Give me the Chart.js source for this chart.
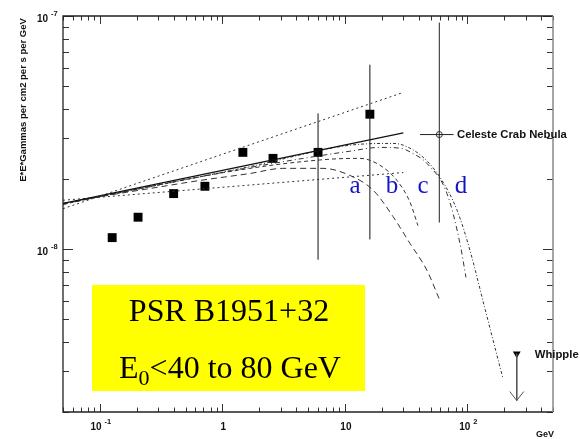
<!DOCTYPE html>
<html>
<head>
<meta charset="utf-8">
<title>PSR B1951+32 spectrum</title>
<script src="https://cdn.jsdelivr.net/npm/chart.js@4.4.0/dist/chart.umd.min.js"></script>
<style>
    body {
        margin: 0;
        background: #ffffff;
    }
    #wrap {
        width: 580px;
        height: 439px;
    }
</style>
</head>
<body>
<div id="wrap"><canvas id="spectrum" width="580" height="439"></canvas></div>
<script>
// energies in GeV, fluxes are E*E*dN/dE
const egretE    = [0.126, 0.205, 0.40, 0.72, 1.47, 2.59, 6.04, 16.0];
const egretFlux = [1.12e-8, 1.37e-8, 1.73e-8, 1.86e-8, 2.60e-8, 2.45e-8, 2.60e-8, 3.79e-8];

// only the two highest points carry drawn error bars
const errE  = [6.04, 16.0];
const errLo = [0.90e-8, 1.10e-8];
const errHi = [3.82e-8, 6.18e-8];

// Celeste point (Crab Nebula) with bars
const celesteE = 59;
const celesteFlux = 3.10e-8;
const celesteELo = 41;
const celesteEHi = 77;
const celesteFluxLo = 1.30e-8;
const celesteFluxHi = 9.37e-8;

// Whipple upper limit
const whippleE = 253;
const whippleFlux = 3.56e-9;
const whippleArrowEnd = 2.24e-9;

// power law fits
const plE     = [0.05, 30];
const plUpper = [1.49e-8, 4.70e-8];
const plBest  = [1.57e-8, 3.15e-8];
const plLower = [1.62e-8, 2.13e-8];

// cutoff curves a-d
const curveAE = [0.05, 0.095, 0.257, 0.657, 1.68, 3.12, 6.63, 11.0, 17.0, 24.7, 34.0, 46.8, 58.7];
const curveAF = [1.57e-8, 1.67e-8, 1.82e-8, 1.97e-8, 2.11e-8, 2.22e-8, 2.22e-8, 2.07e-8, 1.79e-8, 1.38e-8, 1.058e-8, 0.81e-8, 0.614e-8];
const curveBE = [0.05, 0.095, 1.68, 7.56, 13.3, 19.3, 26.6, 34.0, 39.5];
const curveBF = [1.555e-8, 1.67e-8, 2.22e-8, 2.43e-8, 2.45e-8, 2.29e-8, 1.97e-8, 1.59e-8, 1.26e-8];
const curveCE = [0.05, 0.095, 1.68, 11.0, 19.3, 28.2, 36.0, 46.8, 68.2, 87.0, 97.4];
const curveCF = [1.555e-8, 1.67e-8, 2.24e-8, 2.63e-8, 2.73e-8, 2.71e-8, 2.57e-8, 2.33e-8, 1.73e-8, 1.058e-8, 0.756e-8];
const curveDE = [0.05, 0.095, 1.68, 11.0, 24.7, 30, 43.4, 59.8, 82.3, 105, 139, 195];
const curveDF = [1.57e-8, 1.67e-8, 2.26e-8, 2.79e-8, 2.84e-8, 2.79e-8, 2.48e-8, 2.03e-8, 1.47e-8, 0.987e-8, 0.556e-8, 0.279e-8];

const curveLabels = ['a', 'b', 'c', 'd'];
const curveLabelE = [12.1, 24.2, 43.4, 88.7];

// axis tick labels
const xTickVals = [0.1, 1, 10, 100];
const xTickBase = ['10', '1', '10', '10'];
const xTickExp  = ['-1', '', '', '2'];
const yTickVals = [1e-8, 1e-7];
const yTickBase = ['10', '10'];
const yTickExp  = ['-8', '-7'];

const yTitle = 'E*E*Gammas per cm2 per s per GeV';
const xUnit = 'GeV';
const boxLine1 = 'PSR B1951+32';
const boxLine2 = ['E', '0', '<40 to 80 GeV'];

const SANS = '"Liberation Sans", Arial, sans-serif';
const SERIF = '"Liberation Serif", "Times New Roman", serif';

function pts(xs, ys) {
    return xs.map((v, i) => ({x: v, y: ys[i]}));
}

function curve(label, xs, ys, dash, width, color) {
    return {
        label: label,
        data: pts(xs, ys),
        borderColor: color || '#333',
        borderWidth: width || 1,
        borderDash: dash,
        pointRadius: 0,
        cubicInterpolationMode: 'monotone',
        fill: false
    };
}

function bar(xs, ys, color) {
    return {
        data: pts(xs, ys),
        borderColor: color || '#111',
        borderWidth: 1,
        pointRadius: 0,
        fill: false
    };
}

function logTicks(min, max) {
    const out = [];
    for (let e = Math.floor(Math.log10(min)); e <= Math.ceil(Math.log10(max)); e++) {
        for (let m = 1; m < 10; m++) {
            const v = m * Math.pow(10, e);
            if (v >= min * 0.999 && v <= max * 1.001) out.push({v: v, major: m === 1});
        }
    }
    return out;
}

// draws "10" with a raised exponent, centred on cx
function sciText(ctx, base, exp, cx, baseY, anchor) {
    ctx.font = 'bold 10px ' + SANS;
    const w1 = ctx.measureText(base).width;
    ctx.font = 'bold 7.5px ' + SANS;
    const w2 = exp ? ctx.measureText(exp).width + 3 : 0;
    let left = anchor === 'right' ? cx - w1 : cx - (w1 + w2) / 2;
    ctx.textAlign = 'left';
    ctx.textBaseline = 'alphabetic';
    ctx.font = 'bold 10px ' + SANS;
    ctx.fillText(base, left, baseY);
    if (exp) {
        ctx.font = 'bold 7.5px ' + SANS;
        ctx.fillText(exp, left + w1 + 3, baseY - 6.5);
    }
}

const decorations = {
    id: 'decorations',
    beforeDatasetsDraw(chart) {
        const ctx = chart.ctx;
        ctx.save();
        // yellow caption box
        ctx.fillStyle = '#ffff00';
        ctx.fillRect(92, 285, 273, 106);
        ctx.fillStyle = '#000';
        ctx.textBaseline = 'alphabetic';
        ctx.textAlign = 'center';
        ctx.font = '32px ' + SERIF;
        ctx.fillText(boxLine1, 229, 321);

        ctx.textAlign = 'left';
        const wE = ctx.measureText(boxLine2[0]).width;
        const wRest = ctx.measureText(boxLine2[2]).width;
        ctx.font = '22px ' + SERIF;
        const wSub = ctx.measureText(boxLine2[1]).width;
        let x0 = 230 - (wE + wSub + wRest) / 2;
        ctx.font = '32px ' + SERIF;
        ctx.fillText(boxLine2[0], x0, 378);
        ctx.font = '22px ' + SERIF;
        ctx.fillText(boxLine2[1], x0 + wE, 385);
        ctx.font = '32px ' + SERIF;
        ctx.fillText(boxLine2[2], x0 + wE + wSub, 378);
        ctx.restore();
    },
    afterDatasetsDraw(chart) {
        const ctx = chart.ctx;
        const a = chart.chartArea;
        const xs = chart.scales.x;
        const ys = chart.scales.y;
        ctx.save();

        // ticks, ROOT style (inside the frame)
        ctx.strokeStyle = '#333';
        ctx.lineWidth = 1;
        ctx.beginPath();
        logTicks(xs.min, xs.max).forEach(t => {
            const px = Math.round(xs.getPixelForValue(t.v)) + 0.5;
            const len = t.major ? 8 : 4.5;
            ctx.moveTo(px, a.bottom);
            ctx.lineTo(px, a.bottom - len);
            ctx.moveTo(px, a.top);
            ctx.lineTo(px, a.top + len);
        });
        logTicks(ys.min, ys.max).forEach(t => {
            const py = Math.round(ys.getPixelForValue(t.v)) + 0.5;
            const len = t.major ? 10 : 6;
            ctx.moveTo(a.left, py);
            ctx.lineTo(a.left + len, py);
            ctx.moveTo(a.right, py);
            ctx.lineTo(a.right - len, py);
        });
        ctx.stroke();

        // frame
        ctx.strokeStyle = '#222';
        ctx.lineWidth = 1.3;
        ctx.beginPath();
        ctx.moveTo(a.right, a.top);
        ctx.lineTo(a.left, a.top);
        ctx.lineTo(a.left, a.bottom);
        ctx.lineTo(a.right, a.bottom);
        ctx.stroke();
        ctx.strokeStyle = '#888';
        ctx.lineWidth = 1.5;
        ctx.beginPath();
        ctx.moveTo(a.right, a.top);
        ctx.lineTo(a.right, a.bottom);
        ctx.stroke();

        // tick labels
        ctx.fillStyle = '#111';
        xTickVals.forEach((v, i) => {
            sciText(ctx, xTickBase[i], xTickExp[i], xs.getPixelForValue(v) + 1, a.bottom + 18);
        });
        yTickVals.forEach((v, i) => {
            sciText(ctx, yTickBase[i], yTickExp[i], a.left - 15, ys.getPixelForValue(v) + 6, 'right');
        });

        ctx.font = 'bold 9px ' + SANS;
        ctx.textAlign = 'right';
        ctx.textBaseline = 'alphabetic';
        ctx.fillText(xUnit, a.right + 1, 437);

        // axis title
        ctx.save();
        ctx.translate(23, 100);
        ctx.rotate(-Math.PI / 2);
        ctx.font = 'bold 9.5px ' + SANS;
        ctx.textAlign = 'center';
        ctx.textBaseline = 'middle';
        ctx.fillText(yTitle, 0, 0);
        ctx.restore();

        // point annotations
        ctx.font = 'bold 11.3px ' + SANS;
        ctx.textAlign = 'left';
        ctx.textBaseline = 'middle';
        ctx.fillText('Celeste Crab Nebula', xs.getPixelForValue(celesteEHi) + 3.5, ys.getPixelForValue(celesteFlux));
        ctx.fillText('Whipple', xs.getPixelForValue(whippleE) + 18, ys.getPixelForValue(whippleFlux) + 1);

        // arrow head of the upper limit
        const ax = xs.getPixelForValue(whippleE);
        const ay = ys.getPixelForValue(whippleArrowEnd);
        ctx.strokeStyle = '#555';
        ctx.lineWidth = 1;
        ctx.beginPath();
        ctx.moveTo(ax - 7, ay - 9);
        ctx.lineTo(ax, ay);
        ctx.lineTo(ax + 7, ay - 9);
        ctx.stroke();

        // curve letters
        ctx.fillStyle = '#1515c8';
        ctx.font = '25px ' + SERIF;
        ctx.textAlign = 'center';
        ctx.textBaseline = 'alphabetic';
        curveLabels.forEach((t, i) => {
            ctx.fillText(t, xs.getPixelForValue(curveLabelE[i]), ys.getPixelForValue(1.74e-8));
        });
        ctx.restore();
    }
};

const datasets = [
    curve('upper', plE, plUpper, [2, 3], 1, '#333'),
    curve('best', plE, plBest, [], 1.3, '#111'),
    curve('lower', plE, plLower, [2, 3], 1, '#333'),
    curve('a', curveAE, curveAF, [6, 4], 1, '#333'),
    curve('b', curveBE, curveBF, [4, 3], 1, '#333'),
    curve('c', curveCE, curveCF, [5, 3, 1, 3], 1, '#333'),
    curve('d', curveDE, curveDF, [3, 2, 1, 2], 1, '#333')
];

errE.forEach((e, i) => {
    datasets.push(bar([e, e], [errLo[i], errHi[i]]));
});
datasets.push(bar([celesteE, celesteE], [celesteFluxLo, celesteFluxHi], '#222'));
datasets.push(bar([celesteELo, celesteEHi], [celesteFlux, celesteFlux], '#222'));
datasets.push(bar([whippleE, whippleE], [whippleFlux, whippleArrowEnd], '#555'));

datasets.push({
    label: 'EGRET',
    data: pts(egretE, egretFlux),
    showLine: false,
    pointStyle: 'rect',
    pointRadius: 6.3,
    backgroundColor: '#000',
    borderColor: '#000',
    borderWidth: 0
});
datasets.push({
    label: 'Celeste',
    data: [{x: celesteE, y: celesteFlux}],
    showLine: false,
    pointStyle: 'circle',
    pointRadius: 3,
    backgroundColor: 'rgba(255,255,255,0)',
    borderColor: '#333',
    borderWidth: 1
});
datasets.push({
    label: 'Whipple',
    data: [{x: whippleE, y: whippleFlux}],
    showLine: false,
    pointStyle: 'triangle',
    rotation: 180,
    pointRadius: 4.5,
    backgroundColor: '#000',
    borderColor: '#000',
    borderWidth: 0
});

new Chart(document.getElementById('spectrum'), {
    type: 'line',
    data: {datasets: datasets},
    options: {
        responsive: false,
        animation: false,
        devicePixelRatio: 1,
        layout: {padding: {left: 63, right: 27, top: 16, bottom: 27}},
        plugins: {
            legend: {display: false},
            tooltip: {enabled: false}
        },
        scales: {
            x: {type: 'logarithmic', min: 0.05, max: 500, display: false},
            y: {type: 'logarithmic', min: 2e-9, max: 1e-7, display: false}
        }
    },
    plugins: [decorations]
});
</script>
</body>
</html>
